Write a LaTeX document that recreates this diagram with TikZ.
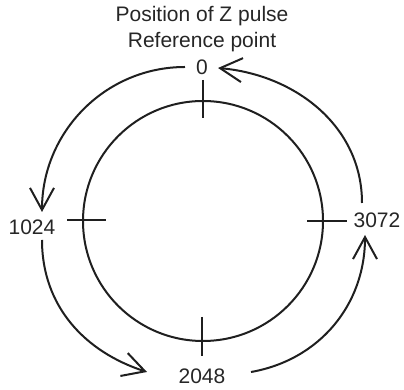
\documentclass[tikz,border=0pt]{standalone}
\usepackage{fontspec}
\setmainfont{Liberation Sans}
\usetikzlibrary{arrows.meta}
\begin{document}
\begin{tikzpicture}[x=1pt,y=1pt,
  ln/.style={line width=2pt, draw=black!88},
  arr/.style={ln, -{Straight Barb[length=22pt,width=24pt,line width=2pt]}},
  lbl/.style={inner sep=0pt, anchor=base, font=\fontsize{21}{24}\selectfont, text=black!85}]
\useasboundingbox (0,0) rectangle (404,390);
\coordinate (O) at (203,169);
\draw[ln] (O) circle[radius=120];
% ticks
\draw[ln] (203,310) -- (203,272);
\draw[ln] (67,170) -- (106,170);
\draw[ln] (307,169) -- (347,169);
\draw[ln] (202,73) -- (202,34);
% labels
\node[lbl] (t1) at (202,368) {Position of Z pulse};
\node[lbl] (t2) at (202,342.5) {Reference point};
\node[lbl] (n0) at (202,315) {0};
\node[lbl] (n1024) at (32,155) {1024};
\node[lbl] (n3072) at (377,162) {3072};
\node[lbl] (n2048) at (202,6) {2048};
% arrow ends
\coordinate (a1s) at (185,323);
\coordinate (a1e) at (42,178);
\coordinate (a2s) at (42,150);
\coordinate (a2e) at (147,18);
\coordinate (a3s) at (251,18);
\coordinate (a3e) at (365,155);
\coordinate (a4s) at (362,187);
\coordinate (a4e) at (218,322);
\draw[arr] (a1s) to[out=180,in=90] (a1e);
\draw[arr] (a2s) to[out=-90,in=162] (a2e);
\draw[arr] (a3s) to[out=10,in=-90] (a3e);
\draw[arr] (a4s) to[out=90,in=-5] (a4e);
\end{tikzpicture}
\end{document}
